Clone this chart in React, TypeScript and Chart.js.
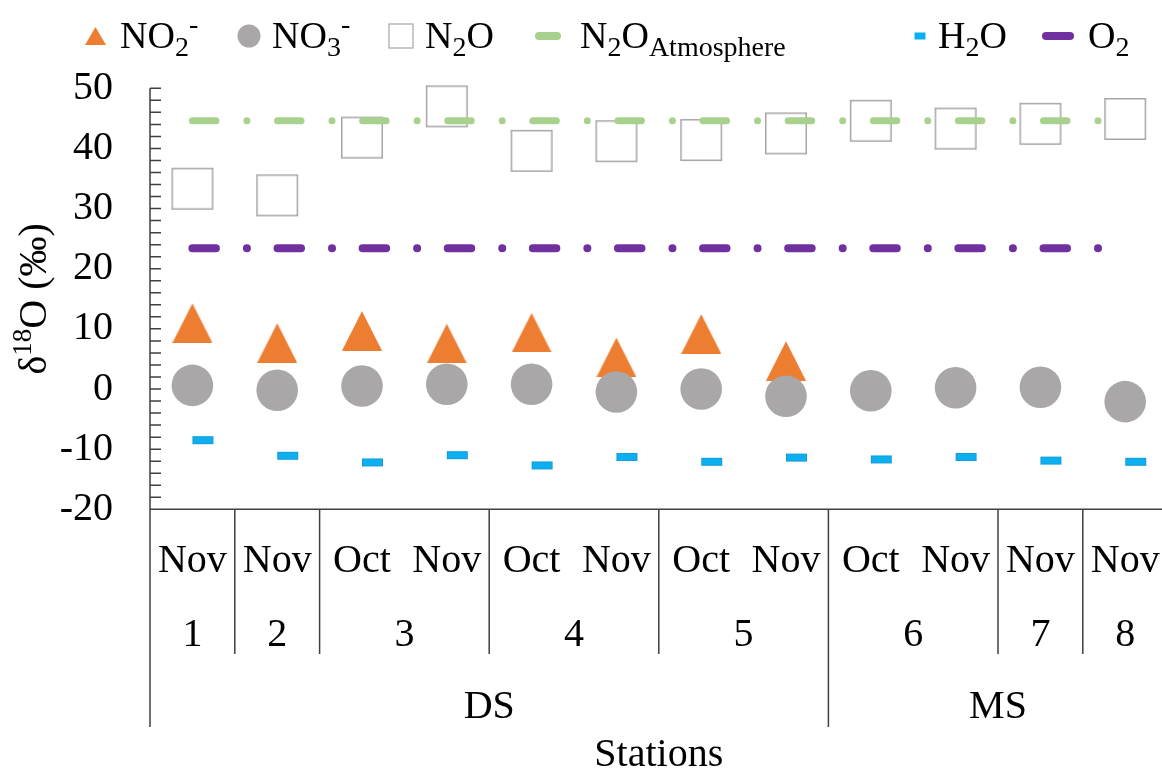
import React, { useEffect, useRef } from 'react';
import { Chart, registerables } from 'chart.js';

Chart.register(...registerables);

// ---------- data ----------
const months = ['Nov', 'Nov', 'Oct', 'Nov', 'Oct', 'Nov', 'Oct', 'Nov', 'Oct', 'Nov', 'Nov', 'Nov'];
const stations = ['1', '2', '3', '3', '4', '4', '5', '5', '6', '6', '7', '8'];
const regions = ['DS', 'DS', 'DS', 'DS', 'DS', 'DS', 'DS', 'DS', 'MS', 'MS', 'MS', 'MS'];

const no2 = [11.0, 7.7, 9.7, 7.6, 9.4, 5.3, 9.2, 4.7, null, null, null, null];
const no3 = [0.6, -0.2, 0.5, 0.8, 0.8, -0.5, 0.0, -1.2, -0.3, 0.2, 0.3, -2.1];
const n2o = [33.3, 32.2, 41.8, 47.0, 39.6, 41.2, 41.4, 42.5, 44.6, 43.3, 44.1, 44.9];
const n2oAtmosphere = [44.6, 44.6, 44.6, 44.6, 44.6, 44.6, 44.6, 44.6, 44.6, 44.6, 44.6, 44.6];
const h2o = [-8.5, -11.1, -12.2, -11.0, -12.7, -11.3, -12.1, -11.4, -11.7, -11.3, -11.9, -12.1];
const o2 = [23.4, 23.4, 23.4, 23.4, 23.4, 23.4, 23.4, 23.4, 23.4, 23.4, 23.4, 23.4];

const yMin = -20;
const yMax = 50;
const yMajorStep = 10;
const yMinorStep = 2;

const FONT = "'Liberation Serif', 'Times New Roman', serif";

const COLORS = {
  no2: '#ED7D31',
  no3: '#A9A7A7',
  n2o: '#A6A6A6',
  atm: '#A9D18E',
  h2o: '#0CAFEF',
  o2: '#7030A0',
  axis: '#404040',
};

function makeCanvas(w: number, h: number, draw: (g: CanvasRenderingContext2D) => void) {
  const c = document.createElement('canvas');
  c.width = w;
  c.height = h;
  const g = c.getContext('2d') as CanvasRenderingContext2D;
  draw(g);
  return c;
}

function spans(arr: string[]) {
  const out: { label: string; start: number; end: number }[] = [];
  let s = 0;
  for (let i = 1; i <= arr.length; i++) {
    if (i === arr.length || arr[i] !== arr[s]) {
      out.push({ label: arr[s], start: s, end: i - 1 });
      s = i;
    }
  }
  return out;
}

type Part = { t: string; mode?: 'sub' | 'sup' };

function drawRich(ctx: CanvasRenderingContext2D, x: number, base: number, parts: Part[], main: number, small: number, measureOnly = false) {
  let cx = x;
  for (const p of parts) {
    const size = p.mode ? small : main;
    ctx.font = `${size}px ${FONT}`;
    const dy = p.mode === 'sub' ? 8 : p.mode === 'sup' ? -15 : 0;
    if (!measureOnly) ctx.fillText(p.t, cx, base + dy);
    cx += ctx.measureText(p.t).width;
  }
  return cx - x;
}

const decorPlugin = {
  id: 'decor',
  afterDraw(chart: any) {
    const { ctx, chartArea: ca } = chart;
    const x = chart.scales.x;
    const y = chart.scales.y;
    const n = months.length;
    const w = x.getPixelForValue(1) - x.getPixelForValue(0);
    const edge = (i: number) => x.getPixelForValue(i) - w / 2;
    const sepMid = 654;
    const sepTall = 727;

    ctx.save();
    ctx.strokeStyle = COLORS.axis;
    ctx.lineWidth = 1.5;
    ctx.beginPath();
    ctx.moveTo(ca.left, ca.top);
    ctx.lineTo(ca.left, sepTall);
    ctx.moveTo(ca.left, ca.bottom);
    ctx.lineTo(ca.right, ca.bottom);
    y.ticks.forEach((t: any) => {
      const py = y.getPixelForValue(t.value);
      ctx.moveTo(ca.left, py);
      ctx.lineTo(ca.left + 11, py);
    });
    for (let i = 1; i <= n; i++) {
      const bx = edge(i);
      let bottom = 0;
      if (i === n || regions[i] !== regions[i - 1]) bottom = sepTall;
      else if (stations[i] !== stations[i - 1]) bottom = sepMid;
      if (bottom) {
        ctx.moveTo(bx, ca.bottom);
        ctx.lineTo(bx, bottom);
      }
    }
    ctx.stroke();

    // category labels
    ctx.fillStyle = '#000';
    ctx.textAlign = 'center';
    ctx.textBaseline = 'alphabetic';
    ctx.font = `40px ${FONT}`;
    months.forEach((m, i) => ctx.fillText(m, x.getPixelForValue(i), 572));
    spans(stations).forEach((s) => {
      ctx.fillText(s.label, (x.getPixelForValue(s.start) + x.getPixelForValue(s.end)) / 2, 646);
    });
    spans(regions).forEach((s) => {
      ctx.fillText(s.label, (x.getPixelForValue(s.start) + x.getPixelForValue(s.end)) / 2, 718);
    });
    ctx.fillText('Stations', (ca.left + ca.right) / 2, 766);

    // y title
    ctx.textAlign = 'left';
    const yParts: Part[] = [{ t: 'δ' }, { t: '18', mode: 'sup' }, { t: 'O (‰)' }];
    const tw = drawRich(ctx, 0, 0, yParts, 40, 27, true);
    ctx.save();
    ctx.translate(46, (ca.top + ca.bottom) / 2);
    ctx.rotate(-Math.PI / 2);
    drawRich(ctx, -tw / 2, 0, yParts, 40, 27);
    ctx.restore();

    // legend
    const base = 48;
    const my = 36;
    // NO2-
    ctx.fillStyle = COLORS.no2;
    ctx.beginPath();
    ctx.moveTo(85, 45);
    ctx.lineTo(95.5, 27);
    ctx.lineTo(106, 45);
    ctx.closePath();
    ctx.fill();
    ctx.fillStyle = '#000';
    drawRich(ctx, 120, base, [{ t: 'NO' }, { t: '2', mode: 'sub' }, { t: '-', mode: 'sup' }], 38, 28);
    // NO3-
    ctx.fillStyle = COLORS.no3;
    ctx.beginPath();
    ctx.arc(249, my, 11.5, 0, Math.PI * 2);
    ctx.fill();
    ctx.fillStyle = '#000';
    drawRich(ctx, 272, base, [{ t: 'NO' }, { t: '3', mode: 'sub' }, { t: '-', mode: 'sup' }], 38, 28);
    // N2O
    ctx.fillStyle = '#fff';
    ctx.strokeStyle = COLORS.n2o;
    ctx.lineWidth = 1.2;
    ctx.fillRect(389, my - 12, 24, 24);
    ctx.strokeRect(389, my - 12, 24, 24);
    ctx.fillStyle = '#000';
    drawRich(ctx, 425, base, [{ t: 'N' }, { t: '2', mode: 'sub' }, { t: 'O' }], 38, 28);
    // N2O atmosphere
    ctx.strokeStyle = COLORS.atm;
    ctx.lineCap = 'round';
    ctx.lineWidth = 8;
    ctx.beginPath();
    ctx.moveTo(539, my);
    ctx.lineTo(557, my);
    ctx.stroke();
    ctx.fillStyle = '#000';
    drawRich(ctx, 580, base, [{ t: 'N' }, { t: '2', mode: 'sub' }, { t: 'O' }, { t: 'Atmosphere', mode: 'sub' }], 38, 28);
    // H2O
    ctx.fillStyle = COLORS.h2o;
    ctx.fillRect(914.5, my - 3.5, 11, 7);
    ctx.fillStyle = '#000';
    drawRich(ctx, 938, base, [{ t: 'H' }, { t: '2', mode: 'sub' }, { t: 'O' }], 38, 28);
    // O2
    ctx.strokeStyle = COLORS.o2;
    ctx.lineWidth = 8;
    ctx.beginPath();
    ctx.moveTo(1046, my);
    ctx.lineTo(1070, my);
    ctx.stroke();
    ctx.fillStyle = '#000';
    drawRich(ctx, 1088, base, [{ t: 'O' }, { t: '2', mode: 'sub' }], 38, 28);

    ctx.restore();
  },
};

export default function App() {
  const ref = useRef<HTMLCanvasElement | null>(null);

  useEffect(() => {
    if (!ref.current) return;

    const triangle = makeCanvas(40, 40, (g) => {
      g.fillStyle = COLORS.no2;
      g.beginPath();
      g.moveTo(0, 40);
      g.lineTo(20, 0.5);
      g.lineTo(40, 40);
      g.closePath();
      g.fill();
    });
    const square = makeCanvas(44, 44, (g) => {
      g.strokeStyle = COLORS.n2o;
      g.lineWidth = 1.5;
      g.strokeRect(1.75, 1.75, 40.5, 40.5);
    });
    const dash = makeCanvas(44, 10, (g) => {
      g.fillStyle = COLORS.h2o;
      g.fillRect(22, 1, 21, 8);
      g.strokeStyle = '#1E90C8';
      g.lineWidth = 0.6;
      g.strokeRect(22.3, 1.3, 20.4, 7.4);
    });

    const labels = months.map((m, i) => `${m} ${stations[i]}`);

    const markerBase = { showLine: false, clip: false as any, pointRadius: 20, pointHoverRadius: 20 };
    const lineBase = {
      clip: false as any,
      pointRadius: 0,
      pointHoverRadius: 0,
      tension: 0,
      borderCapStyle: 'round' as const,
      borderDash: [23.5, 31, 0.01, 30.6],
      fill: false,
    };

    const chart = new Chart(ref.current, {
      type: 'line',
      data: {
        labels,
        datasets: [
          { ...markerBase, label: 'NO2-', data: no2, pointStyle: triangle as any, order: 6 },
          {
            ...markerBase,
            label: 'NO3-',
            data: no3,
            pointStyle: 'circle',
            pointRadius: 20.8,
            pointBackgroundColor: COLORS.no3,
            pointBorderWidth: 0,
            order: 5,
          },
          { ...markerBase, label: 'N2O', data: n2o, pointStyle: square as any, order: 4 },
          { ...lineBase, label: 'N2O Atmosphere', data: n2oAtmosphere, borderColor: COLORS.atm, borderWidth: 7, order: 3 },
          { ...markerBase, label: 'H2O', data: h2o, pointStyle: dash as any, order: 2 },
          { ...lineBase, label: 'O2', data: o2, borderColor: COLORS.o2, borderWidth: 8, order: 1 },
        ] as any,
      },
      options: {
        animation: false,
        responsive: false,
        events: [],
        layout: { autoPadding: false, padding: { left: 0, right: 12.4, top: 88.3, bottom: 261.7 } },
        plugins: { legend: { display: false }, tooltip: { enabled: false } },
        scales: {
          x: {
            type: 'category',
            offset: true,
            display: false,
          },
          y: {
            min: yMin,
            max: yMax,
            grid: { display: false, drawTicks: false },
            border: { display: false },
            afterFit: (s: any) => {
              s.width = 150;
            },
            ticks: {
              stepSize: yMinorStep,
              autoSkip: false,
              padding: 37,
              color: '#000',
              font: { family: FONT, size: 40 },
              callback: (v: any) => (Number(v) % yMajorStep === 0 ? String(v) : ''),
            },
          },
        },
      },
      plugins: [decorPlugin],
    });

    return () => chart.destroy();
  }, []);

  return (
    <div
      style={{
        position: 'fixed',
        left: 0,
        top: 0,
        width: 1162,
        height: 771,
        overflow: 'hidden',
        background: '#fff',
      }}
    >
      <canvas ref={ref} width={1180} height={771} style={{ display: 'block' }} />
    </div>
  );
}
